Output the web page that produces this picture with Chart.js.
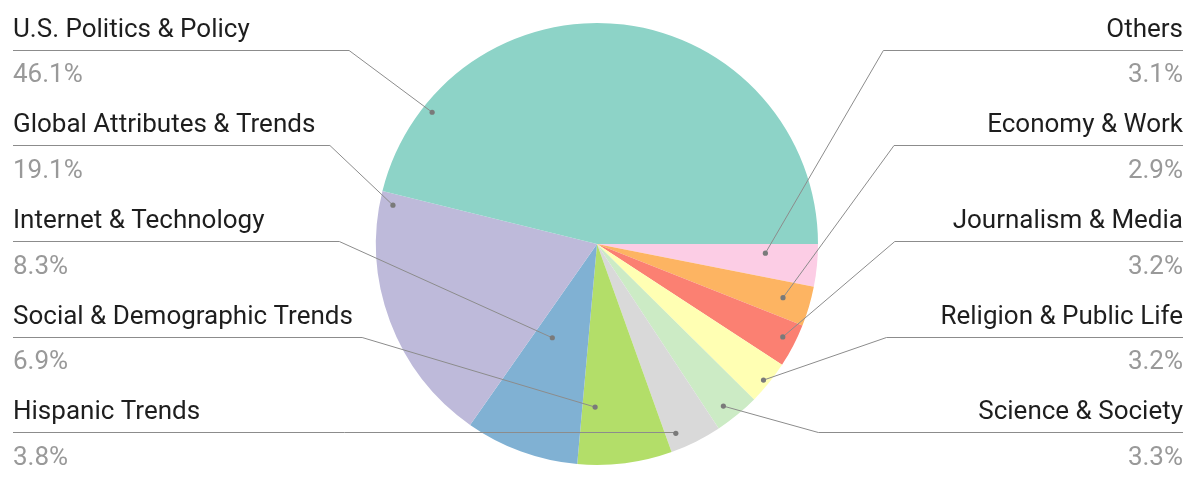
<!DOCTYPE html>
<html>
<head>
<meta charset="utf-8">
<script src="https://cdn.jsdelivr.net/npm/chart.js@4"></script>
<style>
  html, body { margin: 0; padding: 0; background: #fff; }
  #wrap { width: 1196px; height: 484px; }
</style>
</head>
<body>
<div id="wrap"><canvas id="pieChart"></canvas></div>
<script>
// slices in clockwise order, starting at 3 o'clock
var categories = ['Others', 'Economy & Work', 'Journalism & Media', 'Religion & Public Life',
  'Science & Society', 'Hispanic Trends', 'Social & Demographic Trends',
  'Internet & Technology', 'Global Attributes & Trends', 'U.S. Politics & Policy'];
var shares = [3.1, 2.9, 3.2, 3.2, 3.3, 3.8, 6.9, 8.3, 19.1, 46.1];
var sliceColors = ['#fccde5', '#fdb462', '#fb8072', '#ffffb3', '#ccebc5',
  '#d9d9d9', '#b3de69', '#80b1d3', '#bebada', '#8dd3c7'];

// which slice goes in which label row, top to bottom
var leftRows = [9, 8, 7, 6, 5];
var rightRows = [0, 1, 2, 3, 4];

// leader line end inside each slice: t = fraction along the arc, rf = fraction of radius,
// knee = horizontal distance from that point to the elbow of the line
var leaders = [
  {t: 0.28, rf: 0.763, knee: 118},
  {t: 0.47, rf: 0.876, knee: 111},
  {t: 0.43, rf: 0.94, knee: 112},
  {t: 0.53, rf: 0.973, knee: 123},
  {t: 0.62, rf: 0.93, knee: 95},
  {t: 0.79, rf: 0.928, knee: 0},
  {t: 0.82, rf: 0.738, knee: 233},
  {t: 0.68, rf: 0.47, knee: 213},
  {t: 0.955, rf: 0.94, knee: 63},
  {t: 0.149, rf: 0.955, knee: 83}
];

var sideLabels = {
  id: 'sideLabels',
  afterDraw: function(chart){
    var ctx = chart.ctx;
    var arcs = chart.getDatasetMeta(0).data;
    var W = chart.width;
    var firstBase = 36.7, rowH = 95.65;

    function drawSide(rows, isLeft){
      rows.forEach(function(idx, row){
        var arc = arcs[idx];
        var L = leaders[idx];
        var a = arc.startAngle + L.t * (arc.endAngle - arc.startAngle);
        var px = arc.x + Math.cos(a) * arc.outerRadius * L.rf;
        var py = arc.y + Math.sin(a) * arc.outerRadius * L.rf;
        var base = firstBase + row * rowH;
        var lineY = Math.round(base + 13) + 0.5;
        var textX = isLeft ? 13 : W - 13;
        var kneeX = isLeft ? px - L.knee : px + L.knee;

        ctx.save();
        ctx.strokeStyle = '#8c8c8c';
        ctx.lineWidth = 1;
        ctx.beginPath();
        ctx.moveTo(textX, lineY);
        ctx.lineTo(kneeX, lineY);
        ctx.lineTo(px, py);
        ctx.stroke();

        ctx.fillStyle = '#7a7a7a';
        ctx.beginPath();
        ctx.arc(px, py, 2.6, 0, Math.PI * 2);
        ctx.fill();

        ctx.textAlign = isLeft ? 'left' : 'right';
        ctx.textBaseline = 'alphabetic';
        ctx.font = '26px Roboto';
        ctx.fillStyle = '#1e1e1e';
        ctx.fillText(categories[idx], textX, base);
        ctx.fillStyle = '#999999';
        ctx.fillText(shares[idx].toFixed(1) + '%', textX, base + 45.5);
        ctx.restore();
      });
    }
    drawSide(leftRows, true);
    drawSide(rightRows, false);
  }
};

var ctxP = document.getElementById('pieChart').getContext('2d');

var pie_config = {
  type: 'pie',
  data: {
    labels: categories,
    datasets: [{
      data: shares,
      backgroundColor: sliceColors,
      borderWidth: 0,
      hoverOffset: 0
    }]
  },
  options: {
    responsive: true,
    maintainAspectRatio: false,
    animation: false,
    rotation: 90,
    layout: {padding: {top: 23, bottom: 19, left: 0, right: 2}},
    plugins: {
      legend: {display: false},
      tooltip: {enabled: false}
    }
  },
  plugins: [sideLabels]
};

var myPieChart = new Chart(ctxP, pie_config);
</script>
</body>
</html>
